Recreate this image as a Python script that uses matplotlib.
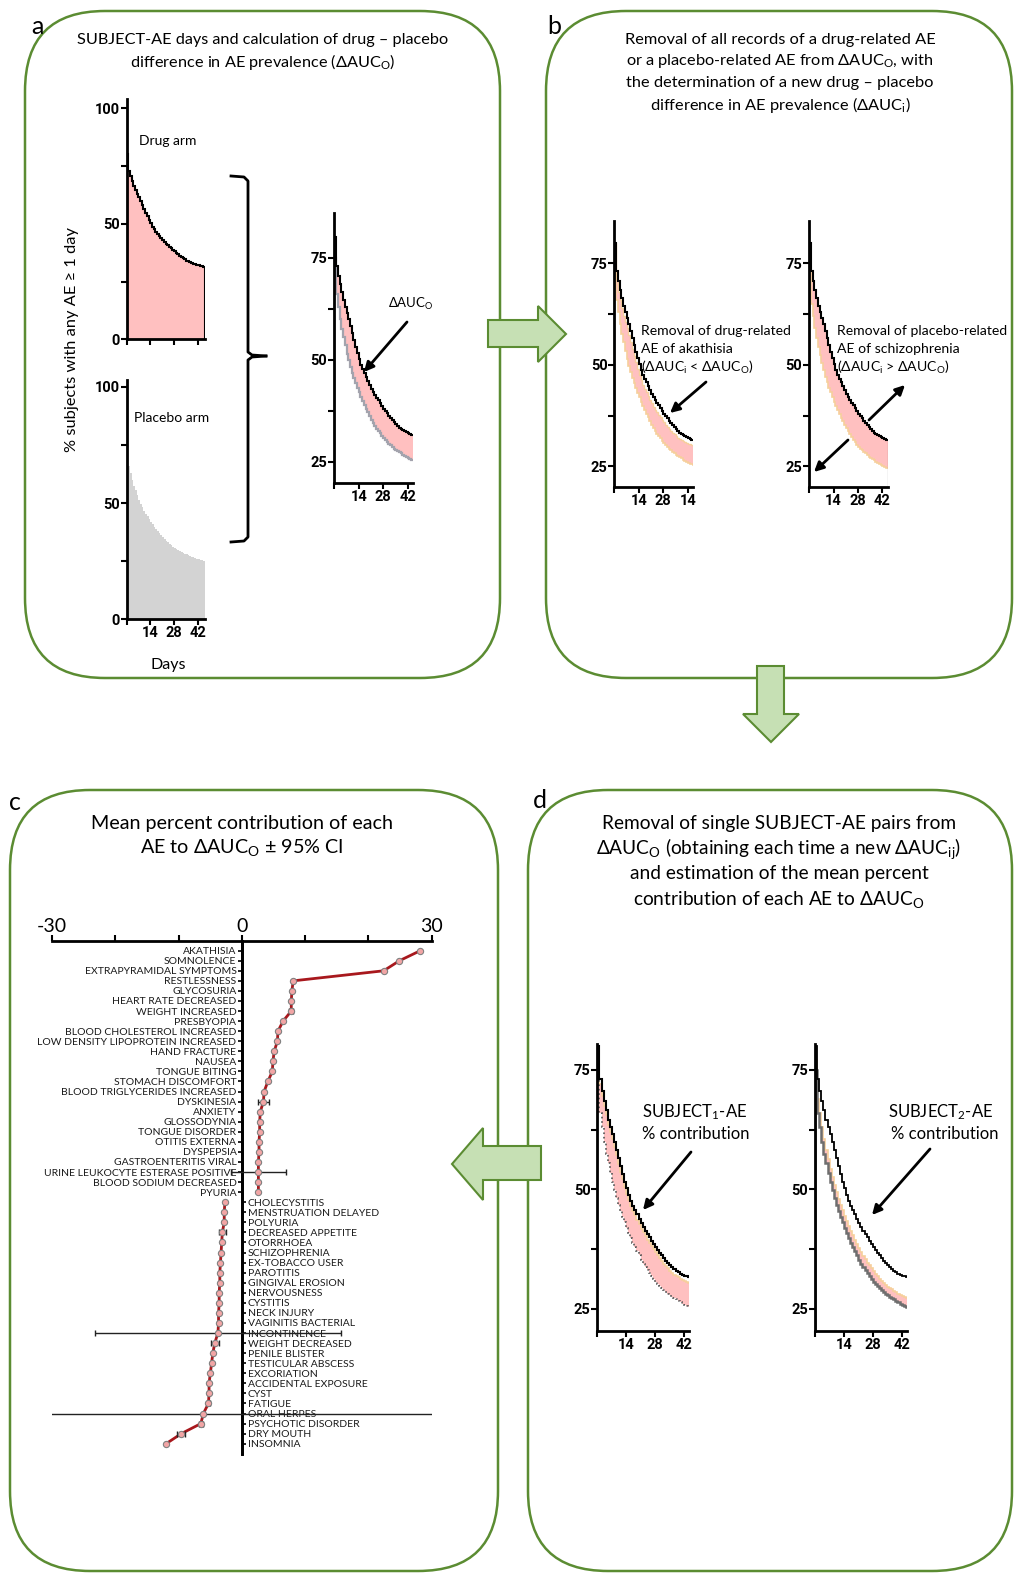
import numpy as np
import matplotlib
matplotlib.use("Agg")
import matplotlib.pyplot as plt
from matplotlib.patches import FancyBboxPatch, Polygon

plt.rcParams['font.family'] = ['Lato', 'DejaVu Sans']
plt.rcParams['mathtext.default'] = 'regular'

W, H = 1014, 1574

# ---- data: % subjects with any AE, day 0 .. day 45 (step curves) ----
day_edges = np.arange(47)
drug = [80, 73, 70.5, 68.5, 66.5, 64.5, 63, 61.5, 60, 58.3, 56.5, 54.8, 53.2, 51.6, 50.2, 48.8,
        47.6, 46.6, 45.7, 44.8, 43.8, 42.9, 42.1, 41.3, 40.6, 40, 39.3, 38.6, 38, 37.4, 36.8,
        36.2, 35.6, 35.1, 34.6, 34.1, 33.7, 33.3, 33, 32.7, 32.4, 32.2, 32, 31.8, 31.6, 31.4]
placebo = [75, 66, 63, 60, 57.5, 55.5, 53.5, 51.5, 49.8, 48.2, 46.8, 45.5, 44.3, 43.1, 42, 40.9,
           39.8, 38.8, 38, 37.1, 36.2, 35.3, 34.5, 33.8, 33.1, 32.5, 31.9, 31.3, 30.7, 30.2, 29.8,
           29.4, 29, 28.6, 28.2, 27.9, 27.6, 27.3, 27, 26.7, 26.4, 26.1, 25.9, 25.7, 25.5, 25.3]
drug_no_akathisia = [80, 71, 68, 66, 64, 62, 60.5, 59, 57.3, 55.6, 53.9, 52.2, 50.6, 49, 47.6,
                     46.3, 45.1, 44.1, 43.2, 42.3, 41.4, 40.5, 39.7, 39, 38.3, 37.7, 37.1, 36.5,
                     35.9, 35.3, 34.8, 34.3, 33.8, 33.3, 32.9, 32.5, 32.1, 31.8, 31.5, 31.2, 31,
                     30.8, 30.6, 30.5, 30.4, 30.3]
placebo_no_schizophrenia = [75, 65, 62, 59, 56.5, 54.4, 52.4, 50.4, 48.7, 47.1, 45.7, 44.4, 43.2,
                            42, 40.9, 39.8, 38.8, 37.8, 37, 36.1, 35.2, 34.4, 33.6, 32.9, 32.2,
                            31.6, 31, 30.4, 29.9, 29.4, 29, 28.6, 28.2, 27.8, 27.4, 27.1, 26.8,
                            26.5, 26.2, 25.9, 25.6, 25.3, 25.1, 24.9, 24.7, 24.5]
drug_no_subject1 = [80, 72, 69.5, 67.5, 65.5, 63.5, 62, 60.5, 58.9, 57.2, 55.4, 53.7, 52.1, 50.5,
                    49.1, 47.7, 46.5, 45.5, 44.6, 43.7, 42.7, 41.8, 41, 40.2, 39.5, 38.9, 38.2,
                    37.5, 36.9, 36.3, 35.7, 35.1, 34.5, 34, 33.5, 33, 32.6, 32.2, 31.9, 31.6,
                    31.3, 31.1, 30.9, 30.7, 30.5, 30.3]
drug_no_subject2 = [77, 69, 66, 63, 60.5, 58.3, 56.3, 54.3, 52.5, 50.9, 49.4, 48, 46.8, 45.6,
                    44.5, 43.4, 42.3, 41.3, 40.4, 39.5, 38.6, 37.7, 36.9, 36.1, 35.4, 34.7, 34.1,
                    33.5, 32.9, 32.3, 31.8, 31.3, 30.9, 30.5, 30.1, 29.7, 29.4, 29.1, 28.8, 28.5,
                    28.2, 27.9, 27.7, 27.5, 27.3, 27.1]

# ---- data: mean percent contribution of each AE ----
ae_drug_side = ['AKATHISIA', 'SOMNOLENCE', 'EXTRAPYRAMIDAL SYMPTOMS', 'RESTLESSNESS', 'GLYCOSURIA',
                'HEART RATE DECREASED', 'WEIGHT INCREASED', 'PRESBYOPIA',
                'BLOOD CHOLESTEROL INCREASED', 'LOW DENSITY LIPOPROTEIN INCREASED',
                'HAND FRACTURE', 'NAUSEA', 'TONGUE BITING', 'STOMACH DISCOMFORT',
                'BLOOD TRIGLYCERIDES INCREASED', 'DYSKINESIA', 'ANXIETY', 'GLOSSODYNIA',
                'TONGUE DISORDER', 'OTITIS EXTERNA', 'DYSPEPSIA', 'GASTROENTERITIS VIRAL',
                'URINE LEUKOCYTE ESTERASE POSITIVE', 'BLOOD SODIUM DECREASED', 'PYURIA']
contrib_drug_side = [28.2, 24.9, 22.4, 8.1, 7.9, 7.8, 7.8, 6.5, 5.7, 5.6, 5.1, 4.9, 4.8, 4.1, 3.5,
                     3.4, 2.9, 2.8, 2.8, 2.7, 2.7, 2.6, 2.6, 2.6, 2.6]
ci_drug_side = [0, 0, 0, 0, 0, 0, 0.3, 0, 0, 0, 0, 0, 0, 0, 0, 0.9, 0, 0, 0, 0, 0, 0, 4.3, 0, 0]
ae_placebo_side = ['CHOLECYSTITIS', 'MENSTRUATION DELAYED', 'POLYURIA', 'DECREASED APPETITE',
                   'OTORRHOEA', 'SCHIZOPHRENIA', 'EX-TOBACCO USER', 'PAROTITIS', 'GINGIVAL EROSION',
                   'NERVOUSNESS', 'CYSTITIS', 'NECK INJURY', 'VAGINITIS BACTERIAL', 'INCONTINENCE',
                   'WEIGHT DECREASED', 'PENILE BLISTER', 'TESTICULAR ABSCESS', 'EXCORIATION',
                   'ACCIDENTAL EXPOSURE', 'CYST', 'FATIGUE', 'ORAL HERPES', 'PSYCHOTIC DISORDER',
                   'DRY MOUTH', 'INSOMNIA']
contrib_placebo_side = [-2.7, -2.8, -2.8, -3.1, -3.2, -3.3, -3.4, -3.5, -3.5, -3.6, -3.6, -3.7,
                        -3.7, -3.8, -4.3, -4.6, -4.8, -5.0, -5.2, -5.2, -5.3, -6.1, -6.5, -9.6,
                        -12.0]
ci_placebo_side = [0, 0, 0, 0.6, 0, 0, 0, 0, 0, 0, 0, 0, 0, 19.5, 0.6, 0, 0, 0, 0, 0, 0.3, 36.5,
                   0.3, 0.6, 0]

PINK = '#ffc0c0'
GREY = '#d3d3d3'
PEACH = '#f6cf9c'
GREEN = '#5b8c32'
TICK_FONT = dict(family=['Roboto', 'DejaVu Sans'], fontweight='bold', fontsize=10.5)

fig = plt.figure(figsize=(W / 100, H / 100), dpi=100)
fig.patch.set_facecolor('white')


def px_axes(x0, y0, x1, y1):
    """add an axes given its pixel box (top-left origin)"""
    return fig.add_axes([x0 / W, 1 - y1 / H, (x1 - x0) / W, (y1 - y0) / H])


def curve_axes(ax, xmax, ylim, yticks, ylabels, xlabels):
    ax.set_xlim(0, xmax)
    ax.set_ylim(*ylim)
    ax.patch.set_alpha(0)
    ax.spines['top'].set_visible(False)
    ax.spines['right'].set_visible(False)
    ax.spines['left'].set_linewidth(2)
    ax.spines['bottom'].set_linewidth(2)
    ax.set_xticks([0, 14, 28, 42])
    ax.set_xticklabels(xlabels, **TICK_FONT)
    ax.set_yticks(yticks)
    ax.set_yticklabels(ylabels, **TICK_FONT)
    ax.tick_params(width=1.5, length=4, pad=1)


zoom_yticks = [25, 37.5, 50, 62.5, 75]
zoom_ylabels = ['25', '', '50', '', '75']

# ---- panel a: drug arm ----
ax = px_axes(126.5, 99, 204.6, 339.3)
ax.stairs(drug, day_edges, baseline=0, fill=True, color=PINK)
ax.stairs(drug, day_edges, color='k', lw=1.5)
curve_axes(ax, 46, (0, 104), [0, 25, 50, 75, 100], ['0', '', '50', '', '100'], ['', '', '', ''])

# ---- panel a: placebo arm ----
ax = px_axes(126.5, 380, 204.6, 619.3)
ax.stairs(placebo, day_edges, baseline=0, fill=True, color=GREY)
curve_axes(ax, 46, (0, 103), [0, 25, 50, 75, 100], ['0', '', '50', '', '100'], ['', '14', '28', '42'])

# ---- panel a: drug - placebo difference ----
ax = px_axes(334.3, 212.8, 412.8, 482.8)
ax.stairs(drug, day_edges, baseline=placebo, fill=True, color=PINK)
ax.stairs(placebo, day_edges, color='#a3a3ad', lw=1.6)
ax.stairs(drug, day_edges, color='k', lw=1.5)
curve_axes(ax, 45, (19.8, 86), zoom_yticks, zoom_ylabels, ['', '14', '28', '42'])

# ---- panel b: akathisia removed ----
ax = px_axes(614.4, 220.8, 693, 486.8)
ax.stairs(drug_no_akathisia, day_edges, baseline=placebo, fill=True, color=PINK)
ax.stairs(drug_no_akathisia, day_edges, color=PEACH, lw=1)
ax.stairs(placebo, day_edges, color=PEACH, lw=1.2)
ax.stairs(drug, day_edges, color='k', lw=1.5)
curve_axes(ax, 45, (20, 85.4), zoom_yticks, zoom_ylabels, ['', '14', '28', '14'])

# ---- panel b: schizophrenia removed ----
ax = px_axes(809.2, 220.8, 887.7, 486.8)
ax.stairs(drug, day_edges, baseline=placebo_no_schizophrenia, fill=True, color=PINK)
ax.stairs(placebo_no_schizophrenia, day_edges, color=PEACH, lw=1.2)
ax.stairs(drug, day_edges, color='k', lw=1.5)
curve_axes(ax, 45, (20, 85.4), zoom_yticks, zoom_ylabels, ['', '14', '28', '42'])

# ---- panel d: subject 1 removed ----
ax = px_axes(597.4, 1044, 688.9, 1331)
ax.stairs(drug_no_subject1, day_edges, baseline=placebo, fill=True, color=PINK)
ax.stairs(drug_no_subject1, day_edges, color=PEACH, lw=1.2)
ax.stairs(placebo, day_edges, color='#555555', lw=1.2, ls=':')
ax.stairs(drug, day_edges, color='k', lw=1.5)
curve_axes(ax, 44.5, (20.4, 80.4), zoom_yticks, zoom_ylabels, ['', '14', '28', '42'])

# ---- panel d: subject 2 removed ----
ax = px_axes(815.2, 1044, 906.7, 1331)
ax.stairs(drug_no_subject2, day_edges, baseline=placebo, fill=True, color=PINK)
ax.stairs(drug_no_subject2, day_edges, color=PEACH, lw=1.2)
ax.stairs(placebo, day_edges, color='#6e6e6e', lw=1.8)
ax.stairs(drug, day_edges, color='k', lw=1.3)
curve_axes(ax, 44.5, (20.4, 80.4), zoom_yticks, zoom_ylabels, ['', '14', '28', '42'])

# ---- panel c: contribution of each AE ----
names = ae_drug_side + ae_placebo_side
values = np.array(contrib_drug_side + contrib_placebo_side)
cis = np.array(ci_drug_side + ci_placebo_side)
pos = np.arange(len(names))
n_top = len(ae_drug_side)

axc = px_axes(52.2, 940.6, 431.7, 1453.8)
axc.patch.set_alpha(0)
axc.set_xlim(-30, 30)
axc.set_ylim(len(names), -1)
# two separate runs: drug-side AEs and placebo-side AEs
axc.plot(values[:n_top], pos[:n_top], color='#a8181d', lw=2, zorder=2)
axc.plot(values[n_top:], pos[n_top:], color='#a8181d', lw=2, zorder=2)
has_ci = cis > 0
axc.errorbar(values[has_ci], pos[has_ci], xerr=cis[has_ci], fmt='none', ecolor='#222222',
             elinewidth=1, capsize=2, capthick=1, zorder=3)
axc.plot(values, pos, 'o', ms=4.5, mfc='#f2a5a5', mec='#808080', mew=0.8, zorder=4)

axc.xaxis.set_ticks_position('top')
axc.set_xticks([-30, -20, -10, 0, 10, 20, 30])
axc.set_xticklabels(['-30', '', '', '0', '', '', '30'])
axc.tick_params(axis='x', length=4, width=1.5, labelsize=14, pad=0)
axc.spines['top'].set_linewidth(2)
axc.spines['bottom'].set_visible(False)
axc.spines['left'].set_position(('data', 0))
axc.spines['right'].set_position(('data', 0))
axc.spines['left'].set_linewidth(2)
axc.spines['right'].set_linewidth(2)
axc.set_yticks(pos)
axc.set_yticklabels(names)
axc.yaxis.set_ticks_position('both')
axc.tick_params(axis='y', labelleft=True, labelright=True, length=3, width=1.2,
                labelsize=7.5, pad=1, labelcolor='#1a1a1a')
for i, t in enumerate(axc.yaxis.get_major_ticks()):
    upper = i < n_top
    t.tick1line.set_visible(upper)
    t.label1.set_visible(upper)
    t.tick2line.set_visible(not upper)
    t.label2.set_visible(not upper)

# ---- overlay: boxes, block arrows, texts ----
ov = fig.add_axes([0, 0, 1, 1])
ov.set_xlim(0, W)
ov.set_ylim(H, 0)
ov.axis('off')
ov.patch.set_alpha(0)

for (x0, y0, x1, y1) in [(25, 11, 500, 678), (546, 11, 1012, 678),
                         (10, 790, 498, 1571), (528, 790, 1012, 1571)]:
    ov.add_patch(FancyBboxPatch((x0, y0), x1 - x0, y1 - y0,
                                boxstyle='round,pad=0,rounding_size=80',
                                fc='none', ec=GREEN, lw=1.8))

arrow_kw = dict(closed=True, fc='#c6e0b4', ec=GREEN, lw=1.5)
ov.add_patch(Polygon([(488, 320), (538, 320), (538, 306), (566, 334), (538, 362),
                      (538, 347), (488, 347)], **arrow_kw))
ov.add_patch(Polygon([(757, 666), (784, 666), (784, 714), (799, 714), (771, 742),
                      (743, 714), (757, 714)], **arrow_kw))
ov.add_patch(Polygon([(541, 1146), (483, 1146), (483, 1128), (452, 1164), (483, 1200),
                      (483, 1180), (541, 1180)], **arrow_kw))

# curly brace in panel a
ov.plot([231, 244, 248, 248, 252, 266], [176, 177, 181, 352, 355, 356], color='k', lw=2)
ov.plot([266, 252, 248, 248, 244, 231], [356, 357, 360, 537, 541, 542], color='k', lw=2)

# panel letters
for letter, x, y in [('a', 37, 27), ('b', 554, 27), ('c', 15, 803), ('d', 540, 800)]:
    ov.text(x, y, letter, fontsize=18, ha='center', va='center')


def lines_at(x, ys, lines, size, ha='center'):
    for y, s in zip(ys, lines):
        ov.text(x, y, s, fontsize=size, ha=ha, va='center')


lines_at(262.5, [40, 62], ['SUBJECT-AE days and calculation of drug \u2013 placebo',
                           'difference in AE prevalence (\u0394AUC$_O$)'], 11.7)
lines_at(780, [40, 61, 83, 105], ['Removal of all records of a drug-related AE',
                                  'or a placebo-related AE from \u0394AUC$_O$, with',
                                  'the determination of a new drug \u2013 placebo',
                                  'difference in AE prevalence (\u0394AUC$_i$)'], 11.8)
lines_at(242, [823, 848], ['Mean percent contribution of each',
                           'AE to \u0394AUC$_O$ \u00b1 95% CI'], 14.2)
lines_at(779, [823, 849, 874, 900], ['Removal of single SUBJECT-AE pairs from',
                                     '\u0394AUC$_O$ (obtaining each time a new \u0394AUC$_{ij}$)',
                                     'and estimation of the mean percent',
                                     'contribution of each AE to \u0394AUC$_O$'], 13.8)

# panel a labels
ov.text(72, 340, '% subjects with any AE \u2265 1 day', rotation=90, fontsize=11.8,
        ha='center', va='center')
ov.text(168, 665, 'Days', fontsize=11.5, ha='center', va='center')
ov.text(168, 141, 'Drug arm', fontsize=10, ha='center', va='center')
ov.text(172, 418, 'Placebo arm', fontsize=10, ha='center', va='center')
ov.text(411, 304, '\u0394AUC$_O$', fontsize=9.5, ha='center', va='center')

# panel b and d notes
lines_at(641, [331, 349, 367], ['Removal of drug-related', 'AE of akathisia',
                                '(\u0394AUC$_i$ < \u0394AUC$_O$)'], 10.1, ha='left')
lines_at(837, [331, 349, 367], ['Removal of placebo-related', 'AE of schizophrenia',
                                '(\u0394AUC$_i$ > \u0394AUC$_O$)'], 10.1, ha='left')
lines_at(642, [1112, 1134], ['SUBJECT$_1$-AE', '% contribution'], 12, ha='left')
ov.text(888, 1112, 'SUBJECT$_2$-AE', fontsize=12, ha='left', va='center')
ov.text(891, 1134, '% contribution', fontsize=12, ha='left', va='center')

# pointer arrows
for tail, tip in [((407, 322), (364, 372)), ((706, 382), (670, 413)),
                  ((869, 420), (905, 385)), ((848, 440), (814, 472)),
                  ((691, 1152), (643, 1210)), ((930, 1149), (872, 1215))]:
    ov.annotate('', xy=tip, xytext=tail,
                arrowprops=dict(arrowstyle='-|>', color='k', lw=2, mutation_scale=14,
                                shrinkA=0, shrinkB=0))

plt.savefig('out.png', dpi=100)
